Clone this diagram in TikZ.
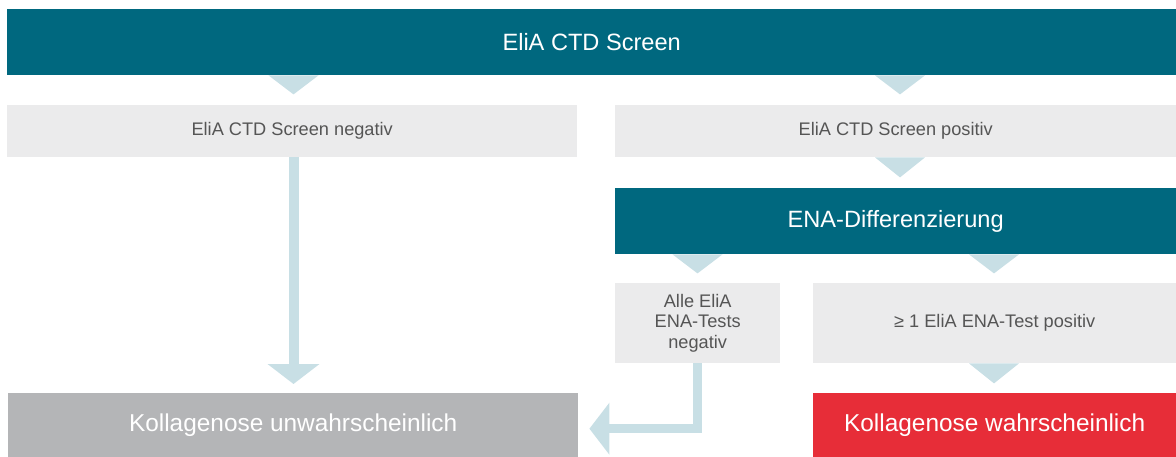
\documentclass[tikz,border=0pt]{standalone}
\usepackage{fontspec}
\setmainfont{Liberation Sans}
\usetikzlibrary{arrows.meta,calc}
\definecolor{cteal}{RGB}{0,104,127}
\definecolor{clight}{RGB}{235,235,236}
\definecolor{carrow}{RGB}{200,223,229}
\definecolor{cgrey}{RGB}{180,181,183}
\definecolor{cred}{RGB}{231,45,56}
\definecolor{ctext}{RGB}{85,85,85}
\begin{document}
\begin{tikzpicture}[x=1pt,y=1pt,
  box/.style={anchor=north west, inner sep=0pt, align=center},
  hdr/.style={box, fill=cteal, text=white, font=\fontsize{23.6}{27}\selectfont},
  sub/.style={box, fill=clight, text=ctext, font=\fontsize{18.2}{20.5}\selectfont},
  res/.style={box, text=white, font=\fontsize{24.4}{28}\selectfont},
  tri/.style={fill=carrow},
  conn/.style={draw=carrow, line cap=butt, line join=miter, -{Triangle[width=51pt,length=20pt]}}]
\useasboundingbox (0,0) rectangle (1176,-457);
\node[hdr, minimum width=1169, minimum height=66] (top) at (7,-9) {EliA CTD Screen};
\node[sub, minimum width=570, minimum height=52] (neg) at (7,-105) {EliA CTD Screen negativ};
\node[sub, minimum width=561, minimum height=52] (pos) at (615,-105) {EliA CTD Screen positiv};
\node[hdr, minimum width=561, minimum height=66] (ena) at (615,-188) {ENA-Differenzierung};
\node[sub, minimum width=165, minimum height=80] (alle) at (615,-283) {Alle EliA\\ENA-Tests\\negativ};
\node[sub, minimum width=363, minimum height=80] (ge) at (813,-283) {≥ 1 EliA ENA-Test positiv};
\node[res, fill=cgrey, minimum width=570, minimum height=64] (unw) at (8,-393) {Kollagenose unwahrscheinlich};
\node[res, fill=cred, minimum width=363, minimum height=64] (wahr) at (813,-393) {Kollagenose wahrscheinlich};
\coordinate (xa) at (293.5,0);
\coordinate (xb) at (900,0);
\coordinate (xc) at (697.5,0);
\coordinate (xd) at (994,0);
% stemless arrow heads
\fill[tri] (top.south -| xa) ++(-25,0) -- ++(50,0) -- ++(-25,-19) -- cycle;
\fill[tri] (top.south -| xb) ++(-25,0) -- ++(50,0) -- ++(-25,-19) -- cycle;
\fill[tri] (pos.south -| xb) ++(-25,0) -- ++(50,0) -- ++(-25,-20) -- cycle;
\fill[tri] (ena.south -| xc) ++(-25,0) -- ++(50,0) -- ++(-25,-19) -- cycle;
\fill[tri] (ena.south -| xd) ++(-25,0) -- ++(50,0) -- ++(-25,-19) -- cycle;
\fill[tri] (ge.south -| xd) ++(-25,0) -- ++(50,0) -- ++(-25,-20) -- cycle;
% connectors with stems
\draw[conn, line width=10pt] (neg.south -| xa) -- ($(unw.north -| xa)+(0,9)$);
\draw[conn, line width=8.5pt] (alle.south -| xc) |- ($(unw.east)+(11,-3.5)$);
\end{tikzpicture}
\end{document}
